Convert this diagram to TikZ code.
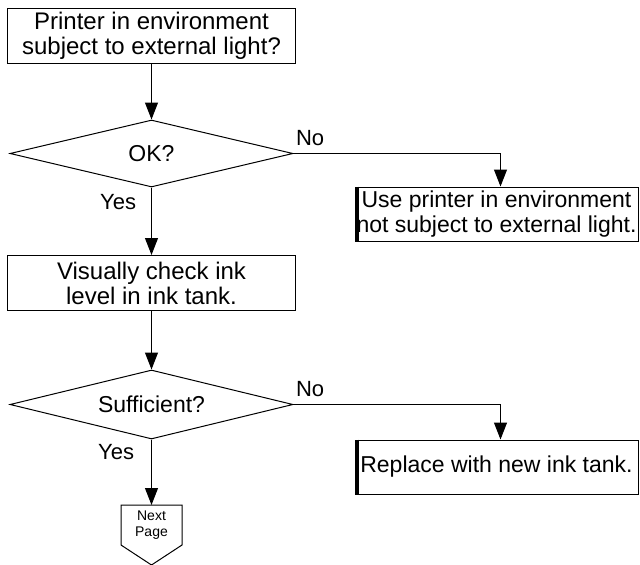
\documentclass[tikz,border=0pt]{standalone}
\usepackage{fontspec}
\setmainfont{Liberation Sans}
\usetikzlibrary{arrows.meta,shapes.geometric}
\begin{document}
\begin{tikzpicture}
[
    x=1pt, y=-1pt,
    line width=1pt,
    box/.style={draw, align=center, minimum width=288, minimum height=55, inner sep=0pt, font=\fontsize{24}{25}\selectfont},
    sidebox/.style={draw, align=center, minimum width=283, minimum height=54, inner sep=0pt, font=\fontsize{23}{25}\selectfont},
    decision/.style={draw, diamond, aspect=4.2, minimum width=283, minimum height=67, inner sep=0pt, font=\fontsize{23}{25}\selectfont},
    pagebox/.style={minimum width=60, minimum height=39, inner sep=0pt, align=center, font=\fontsize{14}{16}\selectfont},
    answer/.style={font=\fontsize{22}{24}\selectfont, inner sep=1pt},
    flow/.style={-{Triangle[length=17pt,width=13pt]}}
]
    \useasboundingbox (0,0) rectangle (640,565);

    \node (light) [box] at (151.5,35.5) {Printer in environment\\subject to external light?};
    \node (ok) [decision] at (151.5,153.5) {OK?};
    \node (use) [sidebox] at (496.5,214) {Use printer in environment\\not subject to external light.};
    \node (check) [box] at (151.5,283) {Visually check ink\\level in ink tank.};
    \node (enough) [decision, minimum height=69] at (151.5,404.5) {Sufficient?};
    \node (replace) [sidebox] at (496.5,467) {Replace with new ink tank.};
    \node (next) [pagebox, anchor=north] at (151.5,505) {Next\\Page};

    % page connector
    \draw (next.north west) -- (next.north east) -- (next.south east)
        -- ([yshift=-20pt]next.south) -- (next.south west) -- cycle;

    % thick left edge of the remedy boxes
    \foreach \n in {use, replace}
        \draw [line width=4pt] ([xshift=2pt]\n.north west) -- ([xshift=2pt]\n.south west);

    \draw [flow] (light) -- (ok);
    \draw [flow] (ok) -- node [answer, pos=0, anchor=north east, xshift=-14pt, yshift=-5pt] {Yes} (check);
    \draw [flow] (ok.east) node [answer, anchor=south west, xshift=1pt, yshift=6pt] {No}
        -| ([xshift=4pt]use.north);
    \draw [flow] (check) -- (enough);
    \draw [flow] (enough) -- node [answer, pos=0, anchor=north east, xshift=-16pt, yshift=-3pt] {Yes} (next);
    \draw [flow] (enough.east) node [answer, anchor=south west, xshift=1pt, yshift=6pt] {No}
        -| ([xshift=4pt]replace.north);
\end{tikzpicture}
\end{document}
